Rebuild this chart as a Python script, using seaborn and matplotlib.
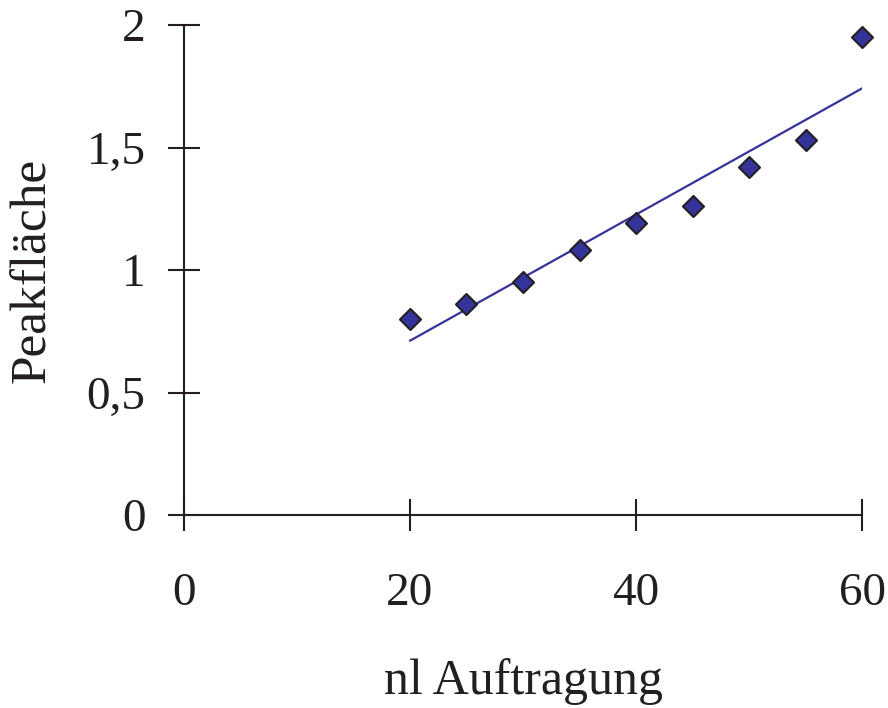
import numpy as np
import pandas as pd
import matplotlib
matplotlib.use("Agg")
import matplotlib.pyplot as plt
import seaborn as sns

# Messwerte: nl Auftragung vs. Peakfläche
nl_auftragung = [20, 25, 30, 35, 40, 45, 50, 55, 60]
peakflaeche = [0.80, 0.86, 0.95, 1.08, 1.19, 1.26, 1.42, 1.53, 1.95]

x_ticks = [0, 20, 40, 60]
y_ticks = [0, 0.5, 1, 1.5, 2]
y_tick_labels = ["0", "0,5", "1", "1,5", "2"]

BLUE = "#333399"
INK = "#231F20"

sns.set_theme(style="white")
plt.rcParams["font.family"] = ["Liberation Serif", "DejaVu Serif"]

df = pd.DataFrame({"nl": nl_auftragung, "peak": peakflaeche})

fig = plt.figure(figsize=(8.88, 7.08), dpi=100)
ax = fig.add_axes([0.207, 0.2726, 0.764, 0.692])

# lineare Trendlinie
sns.regplot(data=df, x="nl", y="peak", ax=ax, ci=None, scatter=False,
            line_kws={"color": BLUE, "linewidth": 1.6})
sns.scatterplot(data=df, x="nl", y="peak", ax=ax, marker="D", s=115,
                color=BLUE, edgecolor=INK, linewidth=1.5,
                clip_on=False, zorder=5)

ax.set_xlim(0, 60)
ax.set_ylim(0, 2)
ax.set_xticks(x_ticks)
ax.set_xticklabels([str(t) for t in x_ticks])
ax.set_yticks(y_ticks)
ax.set_yticklabels(y_tick_labels)

for side in ["top", "right"]:
    ax.spines[side].set_visible(False)
for side in ["left", "bottom"]:
    ax.spines[side].set_color(INK)
    ax.spines[side].set_linewidth(1.5)

ax.tick_params(axis="both", direction="inout", length=23, width=1.5,
               color=INK, labelsize=34, labelcolor=INK,
               bottom=True, left=True)
ax.tick_params(axis="x", pad=30)
ax.tick_params(axis="y", pad=16)

ax.set_xlabel("nl Auftragung", fontsize=36, color=INK, labelpad=31)
ax.set_ylabel("Peakfläche", fontsize=37, color=INK, labelpad=22)

fig.savefig("out.png", dpi=100)
